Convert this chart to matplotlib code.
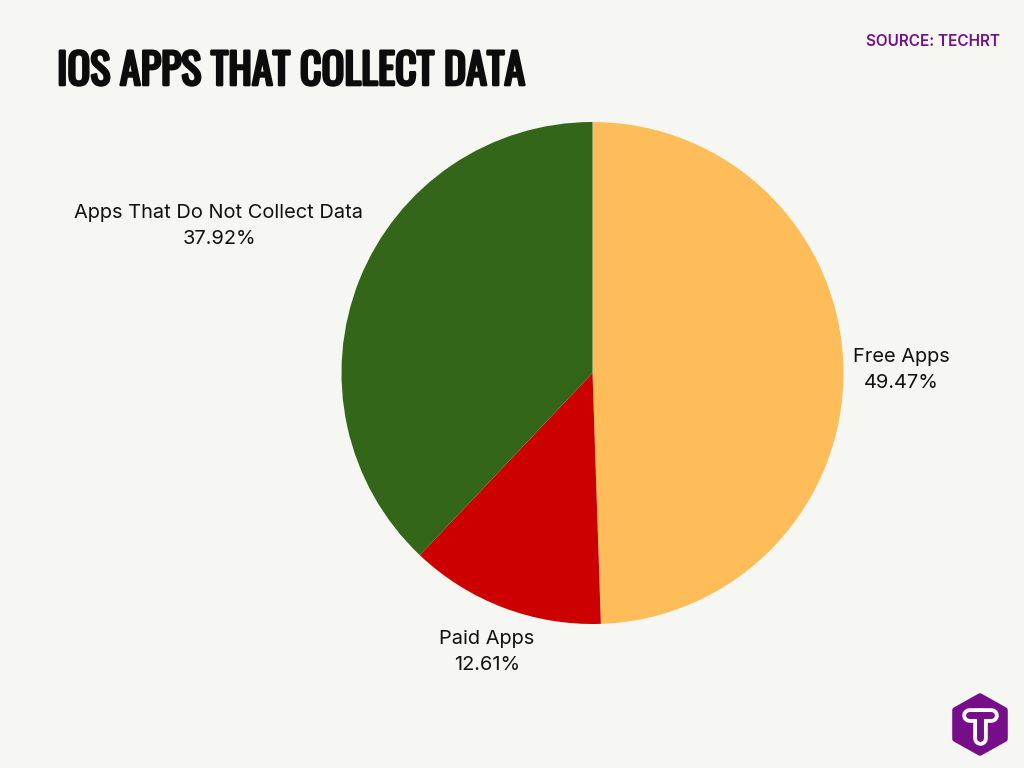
import matplotlib
matplotlib.use('Agg')
import matplotlib.pyplot as plt
import matplotlib.patheffects as pe
from matplotlib.patches import Polygon

# dados
labels = ['Free Apps', 'Paid Apps', 'Apps That Do Not Collect Data']
values = [49.47, 12.61, 37.92]
colors = ['#FFBD59', '#CC0000', '#336618']
title = 'IOS APPS THAT COLLECT DATA'
source = 'SOURCE: TECHRT'
bg = '#F6F7F2'
purple = '#760E8A'

fig = plt.figure(figsize=(10.24, 7.68), dpi=100, facecolor=bg)

# pizza centrada em (592.5, 373), raio 251 px
ax = fig.add_axes([341.5/1024, 1-624/768, 502/1024, 502/768])
ax.pie(values, colors=colors, startangle=90, counterclock=False, radius=1)
ax.set_xlim(-1, 1)
ax.set_ylim(-1, 1)

full = fig.add_axes([0, 0, 1, 1])
full.set_xlim(0, 1024)
full.set_ylim(768, 0)
full.axis('off')
full.patch.set_alpha(0)

lab_pos = [(901, 370), (487, 652), (219, 226)]
for lab, v, (x, y) in zip(labels, values, lab_pos):
    full.text(x, y, f'{lab}\n{v:.2f}%', ha='center', va='center',
              fontsize=14.4, family='Inter', color='#111111', linespacing=1.55)

t = full.text(57, 71.5, title, ha='left', va='center', fontsize=30.4,
              family=['Oswald', 'Anton', 'Roboto'], weight='bold', color='#0c0c0c')
t.set_path_effects([pe.withStroke(linewidth=1.9, foreground='#0c0c0c')])

full.text(1000, 41, source, ha='right', va='center', fontsize=11, family='Inter',
          weight='semibold', color=purple)

# logo
hexa = [(980, 696), (1005, 710), (1005, 739), (980, 753), (955, 739), (955, 710)]
full.add_patch(Polygon(hexa, closed=True, fc=purple, ec=purple, lw=4, joinstyle='round'))
for c, w in (('white', 10.5), (purple, 5)):
    full.plot([969, 991], [715, 715], color=c, lw=w, solid_capstyle='round')
    full.plot([979.5, 979.5], [715, 738], color=c, lw=w, solid_capstyle='round')

plt.savefig('out.png', dpi=100, facecolor=bg)
